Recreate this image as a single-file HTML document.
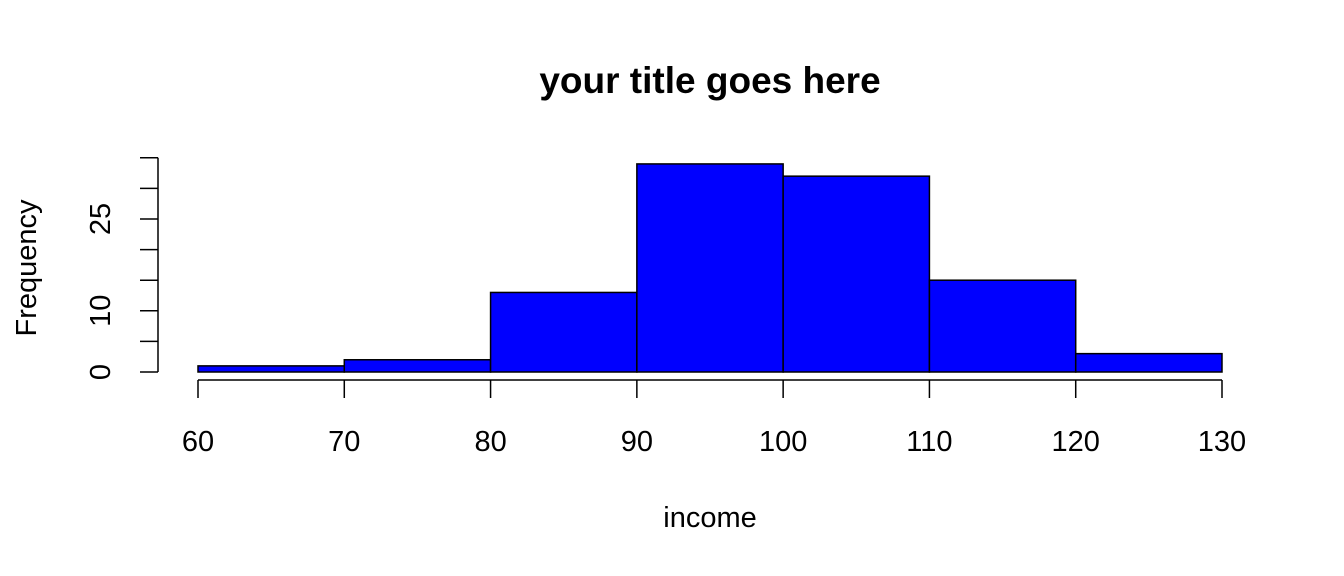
<!DOCTYPE html>
<html><head><meta charset="utf-8"><style>
html,body{margin:0;padding:0;background:#fff;}
svg{display:block;font-family:"Liberation Sans",Arial,sans-serif;}
</style></head><body>
<svg id="chart" width="1344" height="576" viewBox="0 0 1344 576">
<text x="710" y="93" font-size="37" font-weight="bold" text-anchor="middle">your title goes here</text>
<text x="710" y="527" font-size="29" text-anchor="middle">income</text>
<text transform="translate(36,268) rotate(-90)" font-size="29" text-anchor="middle">Frequency</text>
<g id="bars"></g><g id="xaxis"></g><g id="yaxis"></g>
</svg>
<script>
const binEdges=[60,70,80,90,100,110,120,130];
const counts=[1,2,13,34,32,15,3];
const xTicks=[60,70,80,90,100,110,120,130];
const yTicks=[0,5,10,15,20,25,30,35];
const yLabels=[0,10,25];
const NS="http://www.w3.org/2000/svg";
function X(v){return 198+(v-60)*(1222-198)/70;}
function Y(v){return 372-v*6.12;}
function mk(t,a,p){const e=document.createElementNS(NS,t);for(const k in a)e.setAttribute(k,a[k]);p.appendChild(e);return e;}
const bars=document.getElementById('bars');
counts.forEach((c,i)=>{
 const r=mk('rect',{x:X(binEdges[i]),y:Y(c),width:X(binEdges[i+1])-X(binEdges[i]),height:Y(0)-Y(c),fill:'#0000ff',stroke:'#000','stroke-width':1.5},bars);
 
 
});
const xa=document.getElementById('xaxis');
const xl=mk('line',{x1:X(xTicks[0]),x2:X(xTicks[xTicks.length-1]),y1:380,y2:380,stroke:'#000','stroke-width':1.5},xa);


xTicks.forEach(v=>{
 mk('line',{x1:X(v),x2:X(v),y1:380,y2:398,stroke:'#000','stroke-width':1.5},xa);
 const t=mk('text',{x:X(v),y:451,'font-size':29,'text-anchor':'middle'},xa);
 t.textContent=v;
 
 
});
const ya=document.getElementById('yaxis');
const yl=mk('line',{x1:158,x2:158,y1:Y(yTicks[0]),y2:Y(yTicks[yTicks.length-1]),stroke:'#000','stroke-width':1.5},ya);


yTicks.forEach(v=>{
 mk('line',{x1:140,x2:158,y1:Y(v),y2:Y(v),stroke:'#000','stroke-width':1.5},ya);
});
yLabels.forEach(v=>{
 const t=mk('text',{transform:'translate(110,'+Y(v)+') rotate(-90)','font-size':29,'text-anchor':'middle'},ya);
 t.textContent=v;
 
 
});
</script>
</body></html>
